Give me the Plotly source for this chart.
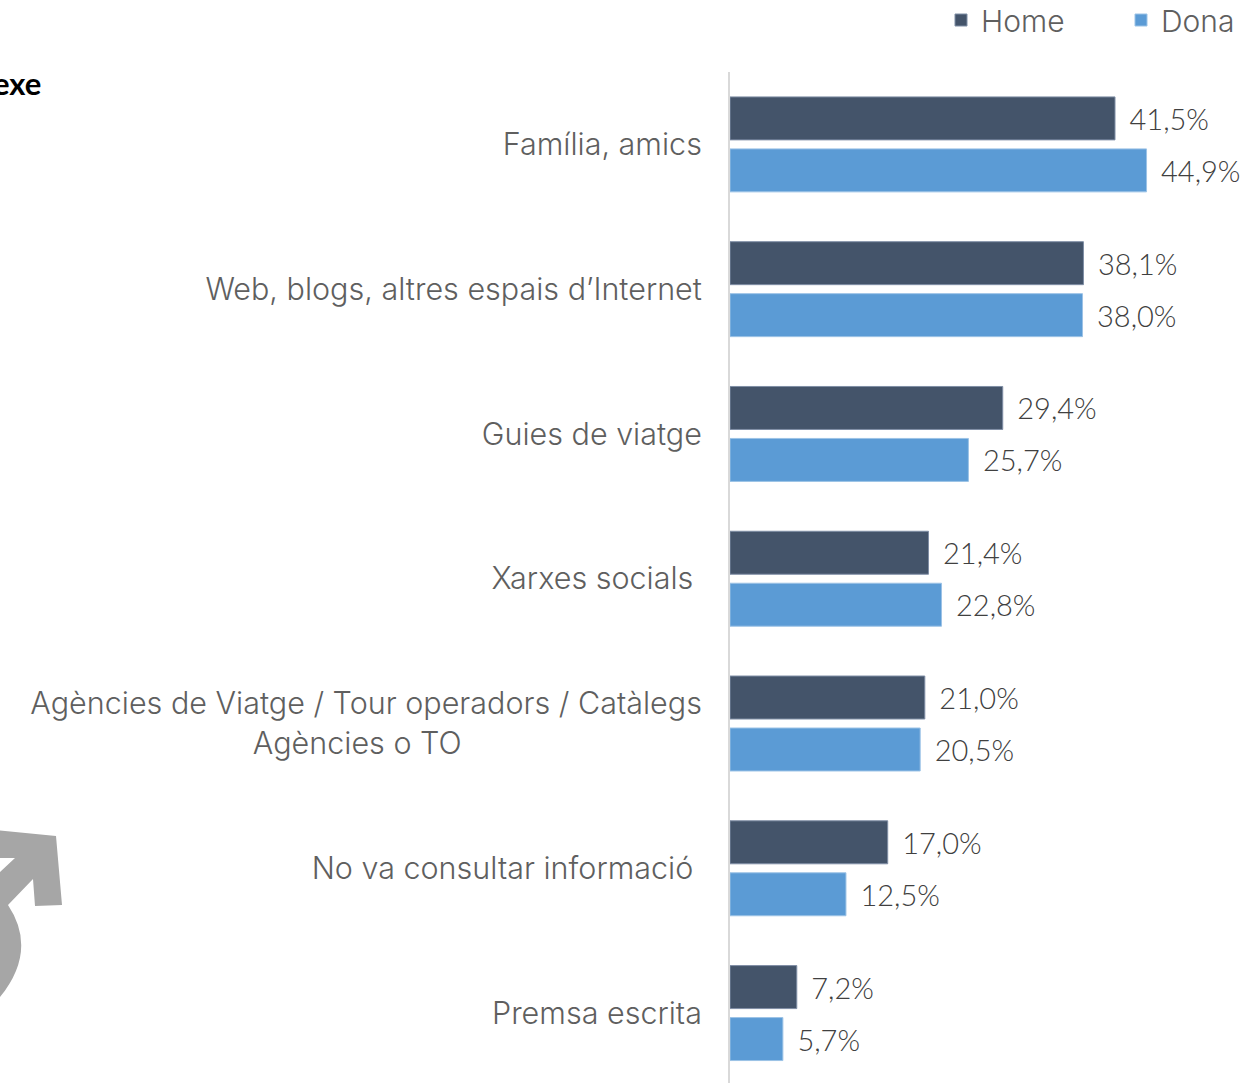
import plotly.graph_objects as go

categories = ["Família, amics", "Web, blogs, altres espais d’Internet", "Guies de viatge",
              "Xarxes socials\u00a0", "Agències de Viatge / Tour operadors / Catàlegs<br>Agències o TO" + "\u00a0" * 28,
              "No va consultar informació\u00a0", "Premsa escrita"]
home = [41.5, 38.1, 29.4, 21.4, 21.0, 17.0, 7.2]
dona = [44.9, 38.0, 25.7, 22.8, 20.5, 12.5, 5.7]

W, H = 1246, 1083
L, T = 730, 71.6
PXU = 9.277
FONT = "Inter"

def px(x): return (x - L) / (W - L)
def py(y): return 1 - (y - T) / (H - T)

def trace(name, vals, color, edge):
    return go.Bar(name=name, y=categories, x=vals, orientation="h",
                  marker=dict(color=color, line=dict(color=edge, width=1)),
                  texttemplate="\u00a0\u2009%{x:.1f}%", textposition="outside",
                  textfont=dict(family="Lato", size=29, weight=300, color="#404040"), cliponaxis=False)

fig = go.Figure([trace("Home", home, "#44546A", "#7f8ea5"), trace("Dona", dona, "#5B9BD5", "#9cc3e6")])

male = [(-5, 830), (56, 836), (62, 905), (35, 906), (33, 879), (8, 905)]
pts = " L ".join(f"{px(x)} {py(y)}" for x, y in male)
arc_path = (f"Q {px(38)} {py(950)} {px(0)} {py(997)} L {px(-20)} {py(997)} L {px(-20)} {py(872)} "
            f"L {px(0)} {py(872)} L {px(15)} {py(858)} L {px(-5)} {py(858)} Z")

fig.update_layout(
    width=W, height=H, margin=dict(l=L, r=0, t=T, b=0),
    paper_bgcolor="white", plot_bgcolor="white",
    barmode="group", bargap=0.282, bargroupgap=0.173,
    separators=", ",
    font=dict(family=FONT, color="#6b6b6b"),
    showlegend=True,
    legend=dict(orientation="h", xref="container", yref="container", x=941 / W, y=1 - 20 / H,
                xanchor="left", yanchor="middle", font=dict(family=FONT, size=30, weight=300, color="#5f5f5f"),
                entrywidth=135, entrywidthmode="pixels", itemwidth=30, traceorder="normal",
                bgcolor="rgba(0,0,0,0)"),
    xaxis=dict(range=[0, (W - L) / PXU], visible=False, fixedrange=True),
    yaxis=dict(range=[6.483, -0.5], type="category", showgrid=False, showline=True, linecolor="#d9d9d9",
               linewidth=2, ticks="", ticklabelstandoff=20, zeroline=False,
               tickfont=dict(family=FONT, size=30.5, weight=300, color="#5f5f5f")),
    shapes=[dict(type="path", xref="paper", yref="paper", path=f"M {pts} {arc_path}",
                 fillcolor="#a6a6a6", line=dict(width=0), layer="below")],
    annotations=[dict(text="<b>exe</b>", xref="paper", yref="paper", x=px(43), y=py(83), xanchor="right",
                      yanchor="middle", showarrow=False, font=dict(family="Lato", size=31, color="#000000"))],
)
fig.write_html("out.html", config={"displayModeBar": False}, post_script="document.body.style.margin='0';")
